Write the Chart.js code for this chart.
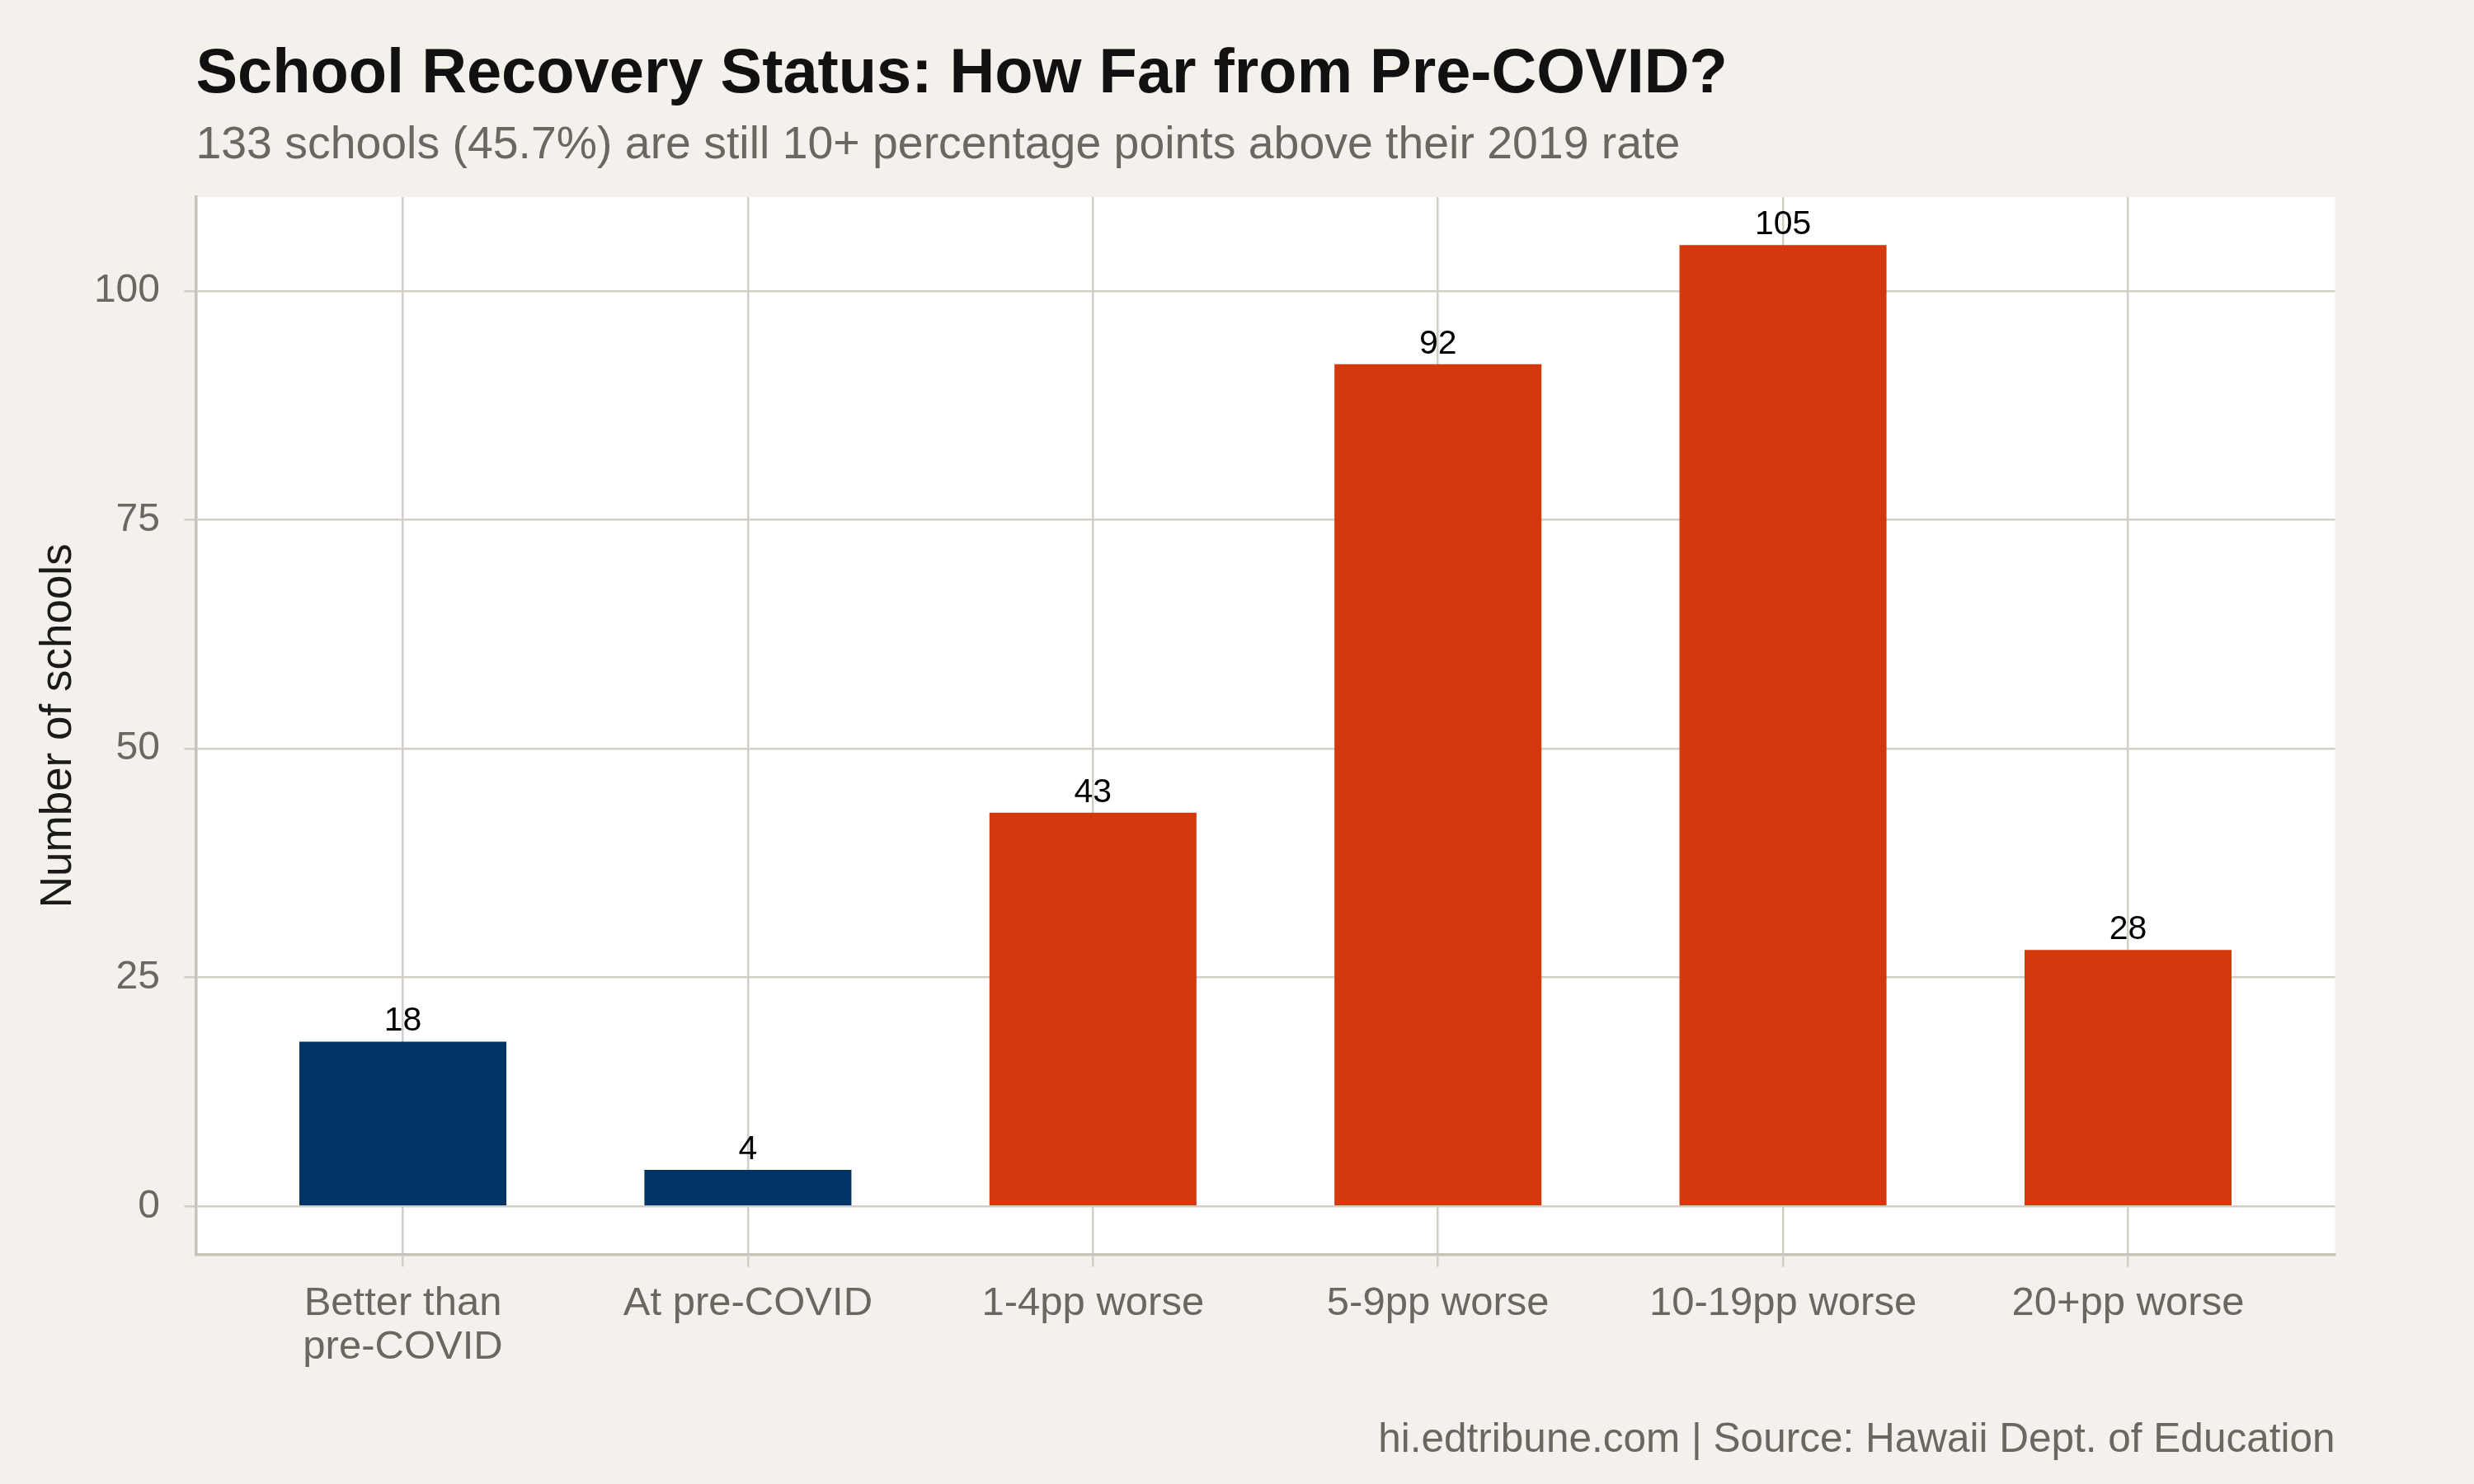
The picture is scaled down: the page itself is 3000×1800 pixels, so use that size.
<!DOCTYPE html>
<html>
<head>
<meta charset="utf-8">
<script src="https://cdn.jsdelivr.net/npm/chart.js@4.4.1/dist/chart.umd.min.js"></script>
<style>
  html, body { margin: 0; padding: 0; background: #F4F1EC; }
  #wrap { width: 3000px; height: 1800px; }
  canvas { display: block; }
</style>
</head>
<body>
<div id="wrap"><canvas id="c" width="3000" height="1800"></canvas></div>
<script>
// ---- data ----
const categories = [['Better than', 'pre-COVID'], 'At pre-COVID', '1-4pp worse', '5-9pp worse', '10-19pp worse', '20+pp worse'];
const schoolCounts = [18, 4, 43, 92, 105, 28];
const statusGroup = ['better', 'better', 'worse', 'worse', 'worse', 'worse'];
const yTicks = [0, 25, 50, 75, 100];
const titleText = 'School Recovery Status: How Far from Pre-COVID?';
const subtitleText = '133 schools (45.7%) are still 10+ percentage points above their 2019 rate';
const captionText = 'hi.edtribune.com | Source: Hawaii Dept. of Education';
const yAxisTitle = 'Number of schools';

// ---- styles ----
const FONT = "'Liberation Sans', Arial, Helvetica, sans-serif";
const BG = '#F4F1EC';
const GREY_TEXT = '#6B6660';
const GRID = '#D2CDC5';
const AXIS = '#C8C2B9';
const groupColors = { better: '#003366', worse: '#D4380D' };

const chromePlugin = {
  id: 'chrome',
  beforeDraw(chart) {
    const { ctx, chartArea: a } = chart;
    ctx.save();
    ctx.fillStyle = BG;
    ctx.fillRect(0, 0, chart.width, chart.height);
    ctx.fillStyle = '#FFFFFF';
    ctx.fillRect(a.left, a.top, a.right - a.left, a.bottom - a.top);
    ctx.restore();
  },
  afterDatasetsDraw(chart) {
    const { ctx } = chart;
    const meta = chart.getDatasetMeta(0);
    ctx.save();
    ctx.fillStyle = '#000000';
    ctx.font = `41px ${FONT}`;
    ctx.textAlign = 'center';
    ctx.textBaseline = 'alphabetic';
    meta.data.forEach((bar, i) => {
      ctx.fillText(String(schoolCounts[i]), bar.x, bar.y - 13);
    });
    ctx.restore();
  },
  afterDraw(chart) {
    const { ctx, chartArea: a } = chart;
    ctx.save();
    ctx.textBaseline = 'alphabetic';
    ctx.textAlign = 'left';
    ctx.fillStyle = '#111111';
    ctx.font = `bold 75.8px ${FONT}`;
    ctx.fillText(titleText, a.left, 112);
    ctx.fillStyle = GREY_TEXT;
    ctx.font = `55.4px ${FONT}`;
    ctx.fillText(subtitleText, a.left, 192);
    ctx.textAlign = 'right';
    ctx.font = `49.5px ${FONT}`;
    ctx.fillText(captionText, a.right, 1761);
    ctx.restore();
  }
};

const ctx = document.getElementById('c').getContext('2d');
new Chart(ctx, {
  type: 'bar',
  data: {
    datasets: [{
      data: schoolCounts.map((v, i) => ({ x: i + 1, y: v })),
      backgroundColor: statusGroup.map(g => groupColors[g]),
      borderWidth: 0,
      categoryPercentage: 1.0,
      barPercentage: 0.6
    }]
  },
  options: {
    responsive: false,
    devicePixelRatio: 1,
    animation: false,
    layout: { padding: { left: 0, top: 239, right: 168.5, bottom: 0 } },
    plugins: {
      legend: { display: false },
      tooltip: { enabled: false },
      title: { display: false }
    },
    scales: {
      x: {
        type: 'linear',
        min: 0.4,
        max: 6.6,
        offset: false,
        grid: { offset: false, color: GRID, lineWidth: 2.5, tickLength: 15, drawTicks: true },
        border: { display: true, color: AXIS, width: 3.5 },
        afterBuildTicks: (s) => { s.ticks = categories.map((_, i) => ({ value: i + 1 })); },
        afterFit: (s) => { s.height = 278.4; },
        ticks: {
          autoSkip: false,
          maxRotation: 0,
          minRotation: 0,
          padding: 17.5,
          color: GREY_TEXT,
          font: { family: FONT, size: 49, lineHeight: 1.1 },
          callback: (value) => categories[Math.round(value) - 1]
        }
      },
      y: {
        type: 'linear',
        min: -5.25,
        max: 110.25,
        grid: { color: GRID, lineWidth: 2.5, tickLength: 14, drawTicks: true },
        border: { display: true, color: AXIS, width: 3.5 },
        afterBuildTicks: (s) => { s.ticks = yTicks.map(v => ({ value: v })); },
        afterFit: (s) => { s.width = 237.5; },
        ticks: {
          padding: 29.5,
          color: GREY_TEXT,
          font: { family: FONT, size: 48 },
          callback: (value) => String(value)
        },
        title: {
          display: true,
          text: yAxisTitle,
          color: '#1A1A1A',
          font: { family: FONT, size: 53, lineHeight: 1.2 },
          padding: { top: 40, bottom: 0 }
        }
      }
    }
  },
  plugins: [chromePlugin]
});
</script>
</body>
</html>
